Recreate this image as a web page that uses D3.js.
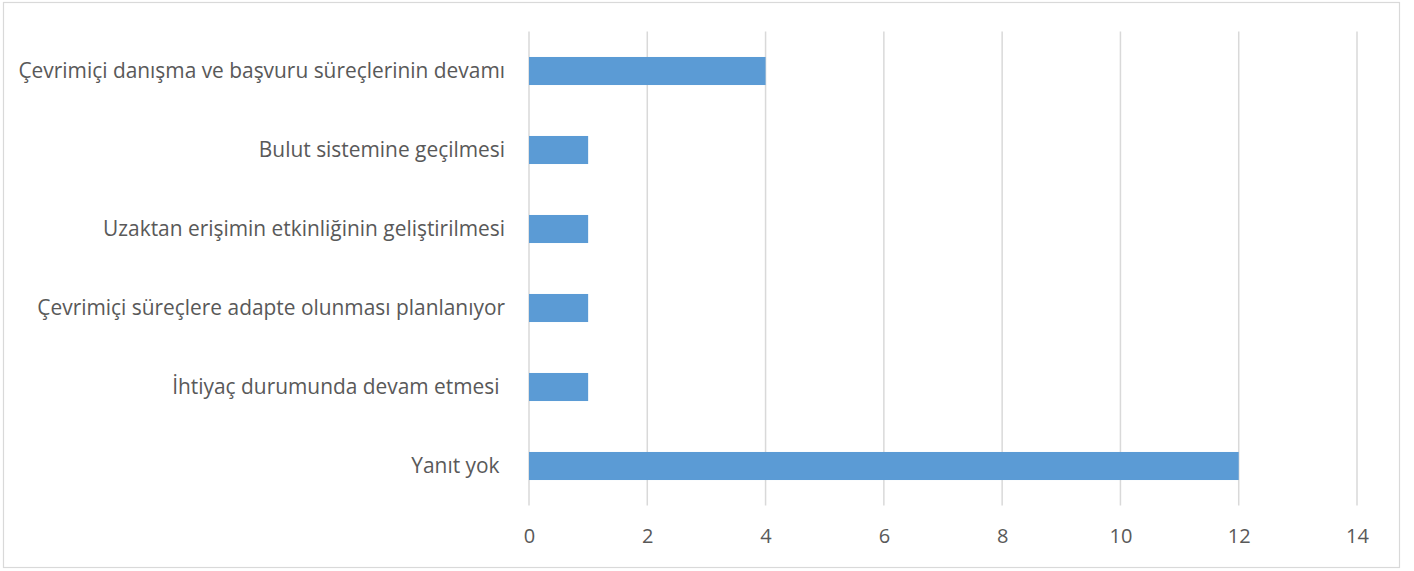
<!DOCTYPE html>
<html>
<head>
<meta charset="utf-8">
<script src="https://cdn.jsdelivr.net/npm/d3@7"></script>
<style>
  body { margin: 0; background: #fff; }
  text { font-family: "Open Sans", sans-serif; fill: #595959; white-space: pre; }
</style>
</head>
<body>
<div class="chart"></div>
<script>
const categories = [
  "Çevrimiçi danışma ve başvuru süreçlerinin devamı",
  "Bulut sistemine geçilmesi",
  "Uzaktan erişimin etkinliğinin geliştirilmesi",
  "Çevrimiçi süreçlere adapte olunması planlanıyor",
  "İhtiyaç durumunda devam etmesi ",
  "Yanıt yok "
];
const values = [4, 1, 1, 1, 1, 12];
const xTicks = [0, 2, 4, 6, 8, 10, 12, 14];

const W = 1414, H = 571;
let margin = { top: 31.5, right: 57, bottom: 65.5, left: 529 },
    width = W - margin.left - margin.right,
    height = H - margin.top - margin.bottom;

const root = d3.select(".chart").append("svg")
    .attr("width", W)
    .attr("height", H);

// outer chart border
root.append("rect")
    .attr("x", 3.5).attr("y", 2.5)
    .attr("width", 1396).attr("height", 565)
    .attr("fill", "#fff")
    .attr("stroke", "#d9d9d9")
    .attr("stroke-width", 1.2);

const svg = root.append("g")
    .attr("transform", `translate(${margin.left},${margin.top})`);

let xScale = d3.scaleLinear().domain([0, 14]).range([0, width]);
let yScale = d3.scaleBand().domain(categories).range([0, height]).paddingInner(0.645).paddingOuter(0.3225);

// gridlines
svg.append("g")
    .selectAll("line")
    .data(xTicks)
    .join("line")
    .attr("x1", d => xScale(d)).attr("x2", d => xScale(d))
    .attr("y1", 0).attr("y2", height)
    .attr("stroke", "#d9d9d9")
    .attr("stroke-width", 1.5);

// bars
svg.append("g")
    .selectAll("rect")
    .data(values)
    .join("rect")
    .attr("x", xScale(0))
    .attr("y", (d, i) => yScale(categories[i]))
    .attr("width", d => xScale(d) - xScale(0))
    .attr("height", yScale.bandwidth())
    .attr("fill", "#5b9bd5");

// x axis labels
const xAxis = d3.axisBottom(xScale).tickValues(xTicks).tickSize(0).tickPadding(23);
svg.append("g")
    .attr("class", "axis x-axis")
    .attr("transform", `translate(0, ${height})`)
    .call(xAxis)
    .call(g => g.select(".domain").remove())
    .selectAll("text")
    .style("font-size", "20px")
    .style("font-family", "'Open Sans', sans-serif")
    .attr("fill", "#595959");

// y axis labels
const yAxis = d3.axisLeft(yScale).tickSize(0).tickPadding(24);
svg.append("g")
    .attr("class", "axis y-axis")
    .call(yAxis)
    .call(g => g.select(".domain").remove())
    .selectAll("text")
    .style("font-size", "20.9px")
    .style("font-family", "'Open Sans', sans-serif")
    .attr("fill", "#595959");
</script>
</body>
</html>
